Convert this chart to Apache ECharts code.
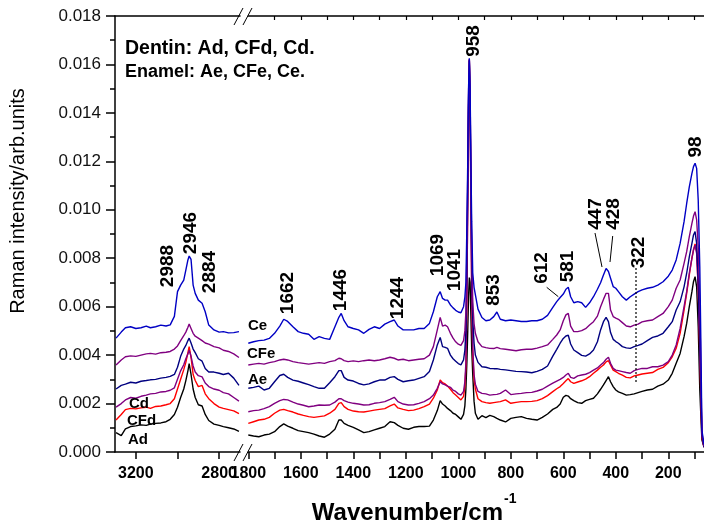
<!DOCTYPE html>
<html>
<head>
<meta charset="utf-8">
<script src="https://cdn.jsdelivr.net/npm/echarts@6/dist/echarts.min.js"></script>
<style>
  html, body { margin: 0; padding: 0; background: #ffffff; }
  #chart { width: 704px; height: 525px; }
</style>
</head>
<body>
<div id="chart"></div>
<script>
// Raman spectra of dentin (Ad, CFd, Cd) and enamel (Ae, CFe, Ce).
// Intensities are listed in units of 1e-3 arb. units.

// C-H stretching window (cm-1)
const wnHigh = [3295, 3270, 3250, 3225, 3200, 3175, 3150, 3130, 3105, 3080, 3055, 3035, 3015, 3000, 2985, 2970,
  2960, 2950, 2944, 2935, 2925, 2915, 2900, 2882, 2867, 2850, 2825, 2800, 2780, 2755, 2730, 2705];

const ceHigh  = [4.70, 4.95, 5.13, 5.17, 5.10, 5.13, 5.20, 5.13, 5.17, 5.24, 5.20, 5.25, 5.60, 6.62, 6.89, 7.10,
  7.51, 7.93, 8.09, 7.95, 6.89, 6.55, 6.27, 6.14, 5.79, 5.24, 5.04, 4.95, 4.97, 4.92, 4.93, 4.97];
const cfeHigh = [3.59, 3.80, 3.93, 3.97, 3.95, 4.00, 4.05, 4.07, 4.04, 4.10, 4.12, 4.15, 4.25, 4.38, 4.60, 4.80,
  4.95, 5.15, 5.28, 5.10, 4.90, 4.78, 4.70, 4.60, 4.50, 4.45, 4.35, 4.30, 4.20, 4.15, 4.05, 3.90];
const aeHigh  = [2.60, 2.75, 2.80, 2.88, 2.85, 2.92, 2.95, 2.98, 3.00, 3.05, 3.08, 3.12, 3.20, 3.50, 3.95, 4.25,
  4.40, 4.60, 4.70, 4.50, 4.25, 4.10, 3.85, 3.75, 3.45, 3.30, 3.30, 3.25, 3.20, 3.25, 3.05, 2.75];
const cdHigh  = [1.85, 2.00, 2.15, 2.25, 2.22, 2.30, 2.35, 2.40, 2.42, 2.48, 2.50, 2.55, 2.65, 3.00, 3.35, 3.60,
  3.85, 4.05, 4.20, 3.95, 3.55, 3.30, 3.15, 3.10, 2.85, 2.70, 2.60, 2.55, 2.45, 2.40, 2.25, 2.10];
const cfdHigh = [1.32, 1.55, 1.75, 1.80, 1.78, 1.82, 1.85, 1.80, 1.88, 1.90, 1.95, 2.00, 2.20, 2.60, 3.00, 3.40,
  3.70, 4.10, 4.35, 3.90, 3.20, 2.95, 2.70, 2.75, 2.40, 2.20, 2.00, 1.85, 1.80, 1.75, 1.70, 1.58];
const adHigh  = [0.80, 0.68, 0.95, 1.05, 1.08, 1.12, 1.10, 1.15, 1.18, 1.20, 1.25, 1.35, 1.55, 1.85, 2.25, 2.60,
  2.95, 3.35, 3.65, 3.20, 2.60, 2.25, 1.95, 1.90, 1.55, 1.30, 1.15, 1.10, 1.05, 1.00, 0.95, 0.85];

// fingerprint / lattice window (cm-1)
const wnLow = [
  1800, 1780, 1760, 1740, 1720, 1700, 1680, 1665, 1650, 1630,
  1610, 1590, 1570, 1550, 1530, 1510, 1490, 1470, 1455, 1446,
  1435, 1420, 1400, 1380, 1360, 1340, 1320, 1300, 1280, 1260,
  1244, 1230, 1210, 1190, 1170, 1150, 1130, 1110, 1095, 1080,
  1069, 1060, 1050, 1041, 1030, 1020, 1010, 1000, 990, 980,
  975, 971, 967, 964, 961, 958, 955, 952, 949, 945,
  940, 935, 925, 910, 895, 880, 865, 853, 840, 820,
  800, 780, 760, 740, 720, 700, 680, 660, 640, 625,
  612, 600, 590, 581, 572, 560, 545, 530, 515, 500,
  485, 470, 458, 447, 437, 428, 420, 410, 400, 390,
  375, 360, 345, 330, 315, 300, 280, 260, 240, 220,
  200, 185, 170, 155, 140, 130, 120, 110, 104, 98,
  92, 86, 80, 76, 72, 64];

const ceLow = [
  4.49, 4.55, 4.60, 4.62, 4.69, 4.90, 5.20, 5.48, 5.39, 5.17,
  4.97, 4.90, 4.86, 4.65, 4.76, 4.69, 4.65, 5.17, 5.56, 5.72,
  5.42, 5.17, 5.10, 5.04, 4.90, 5.06, 5.17, 5.10, 5.28, 5.38,
  5.45, 5.20, 5.04, 5.04, 5.04, 5.10, 5.10, 5.31, 5.79, 6.41,
  6.62, 6.34, 6.27, 6.27, 6.07, 5.95, 5.85, 5.78, 5.75, 6.00,
  6.40, 7.00, 9.50, 12.00, 15.00, 16.25, 15.00, 12.00, 9.50, 7.40,
  6.80, 6.50, 5.90, 5.55, 5.42, 5.45, 5.59, 5.78, 5.48, 5.42,
  5.45, 5.42, 5.39, 5.39, 5.42, 5.42, 5.48, 5.64, 5.97, 6.21,
  6.38, 6.52, 6.72, 6.80, 6.41, 6.16, 6.21, 6.16, 5.97, 6.16,
  6.41, 6.72, 6.99, 7.31, 7.58, 7.45, 7.17, 6.83, 6.76, 6.62,
  6.41, 6.27, 6.41, 6.52, 6.62, 6.69, 6.76, 6.80, 6.89, 7.03,
  7.26, 7.51, 7.93, 8.61, 9.51, 10.26, 10.95, 11.50, 11.78, 11.92,
  11.71, 10.40, 7.65, 4.60, 0.90, 0.30];

const cfeLow = [
  3.59, 3.63, 3.66, 3.63, 3.69, 3.73, 3.80, 3.83, 3.80, 3.73,
  3.69, 3.66, 3.63, 3.66, 3.69, 3.66, 3.73, 3.77, 3.87, 3.85,
  3.77, 3.73, 3.76, 3.73, 3.77, 3.80, 3.77, 3.80, 3.85, 3.91,
  3.87, 3.80, 3.83, 3.77, 3.80, 3.83, 3.85, 4.00, 4.35, 5.04,
  5.56, 5.20, 5.24, 5.17, 4.90, 4.70, 4.55, 4.45, 4.40, 4.60,
  5.00, 5.80, 8.50, 11.50, 14.80, 16.20, 14.80, 11.50, 8.50, 6.20,
  5.30, 4.90, 4.55, 4.35, 4.31, 4.28, 4.27, 4.32, 4.27, 4.24,
  4.21, 4.18, 4.22, 4.24, 4.24, 4.29, 4.35, 4.42, 4.65, 4.83,
  5.04, 5.42, 5.66, 5.72, 5.20, 4.97, 4.97, 5.01, 5.09, 5.24,
  5.38, 5.61, 6.00, 6.30, 6.55, 6.55, 5.86, 5.59, 5.53, 5.48,
  5.34, 5.20, 5.17, 5.24, 5.28, 5.37, 5.42, 5.45, 5.59, 5.72,
  6.00, 6.27, 6.76, 7.10, 7.79, 8.27, 8.89, 9.44, 9.74, 9.92,
  9.58, 8.48, 6.00, 3.50, 0.80, 0.25];

const aeLow = [
  2.63, 2.67, 2.72, 2.56, 2.63, 2.90, 3.16, 3.21, 3.08, 2.97,
  2.92, 2.85, 2.78, 2.70, 2.63, 2.63, 2.86, 3.11, 3.36, 3.36,
  3.08, 2.97, 2.93, 2.83, 2.77, 2.81, 2.90, 2.97, 2.97, 3.08,
  3.11, 3.00, 2.90, 2.94, 2.97, 3.04, 3.11, 3.32, 3.80, 4.42,
  4.73, 4.35, 4.32, 4.28, 4.00, 3.85, 3.75, 3.65, 3.60, 3.80,
  4.20, 5.00, 7.80, 11.00, 14.50, 16.15, 14.50, 11.00, 7.80, 5.50,
  4.50, 4.00, 3.70, 3.52, 3.50, 3.45, 3.44, 3.44, 3.41, 3.39,
  3.36, 3.33, 3.32, 3.30, 3.27, 3.33, 3.41, 3.55, 3.96, 4.24,
  4.49, 4.69, 4.79, 4.82, 4.46, 4.21, 4.10, 3.99, 3.96, 4.05,
  4.21, 4.55, 5.04, 5.38, 5.56, 5.38, 4.93, 4.65, 4.56, 4.49,
  4.35, 4.30, 4.28, 4.35, 4.40, 4.46, 4.60, 4.73, 4.79, 4.90,
  5.17, 5.38, 5.86, 6.20, 6.82, 7.38, 8.06, 8.61, 8.96, 9.10,
  8.61, 7.10, 4.62, 2.80, 0.70, 0.20];

const cdLow = [
  1.66, 1.71, 1.73, 1.79, 1.87, 2.01, 2.12, 2.17, 2.15, 2.06,
  1.98, 1.93, 1.87, 1.90, 1.94, 1.93, 1.94, 2.06, 2.20, 2.20,
  2.12, 2.06, 2.01, 1.98, 1.94, 1.95, 2.01, 2.04, 2.08, 2.17,
  2.26, 2.08, 1.98, 1.94, 1.95, 2.01, 2.08, 2.20, 2.35, 2.63,
  2.90, 2.81, 2.77, 2.72, 2.67, 2.55, 2.50, 2.40, 2.35, 2.50,
  2.90, 3.70, 6.80, 10.50, 14.20, 16.20, 14.20, 10.50, 6.80, 4.30,
  3.20, 2.80, 2.50, 2.42, 2.40, 2.35, 2.37, 2.38, 2.42, 2.56,
  2.37, 2.40, 2.42, 2.45, 2.46, 2.52, 2.59, 2.72, 2.84, 2.93,
  3.00, 3.08, 3.18, 3.25, 3.08, 3.04, 3.14, 3.18, 3.21, 3.28,
  3.38, 3.47, 3.59, 3.69, 3.83, 3.91, 3.66, 3.45, 3.38, 3.36,
  3.32, 3.28, 3.25, 3.36, 3.41, 3.45, 3.45, 3.52, 3.52, 3.59,
  3.73, 4.00, 4.42, 5.10, 6.00, 6.62, 7.38, 8.00, 8.34, 8.54,
  8.20, 6.82, 4.35, 2.50, 0.70, 0.20];

const cfdLow = [
  1.18, 1.25, 1.32, 1.35, 1.43, 1.60, 1.73, 1.76, 1.71, 1.65,
  1.57, 1.51, 1.46, 1.43, 1.46, 1.49, 1.60, 1.76, 2.01, 2.04,
  1.87, 1.76, 1.69, 1.66, 1.65, 1.69, 1.73, 1.76, 1.79, 1.90,
  1.98, 1.82, 1.76, 1.71, 1.73, 1.79, 1.87, 1.98, 2.22, 2.56,
  2.97, 2.86, 2.81, 2.72, 2.59, 2.45, 2.35, 2.25, 2.15, 2.30,
  2.70, 3.50, 6.60, 10.30, 14.00, 16.20, 14.00, 10.30, 6.60, 4.10,
  3.00, 2.60, 2.20, 2.08, 2.04, 2.01, 2.04, 2.06, 2.08, 2.15,
  2.01, 2.05, 2.08, 2.08, 2.09, 2.12, 2.20, 2.33, 2.49, 2.61,
  2.70, 2.83, 2.94, 3.03, 2.90, 2.83, 2.89, 2.94, 3.01, 3.11,
  3.25, 3.38, 3.50, 3.59, 3.72, 3.77, 3.59, 3.38, 3.32, 3.25,
  3.17, 3.08, 3.06, 3.14, 3.18, 3.22, 3.25, 3.28, 3.41, 3.49,
  3.69, 3.93, 4.28, 4.90, 5.86, 6.55, 7.31, 8.00, 8.34, 8.59,
  8.27, 6.69, 4.07, 2.30, 0.60, 0.20];

const adLow = [
  0.70, 0.66, 0.63, 0.70, 0.74, 0.84, 1.05, 1.16, 1.07, 0.98,
  0.88, 0.84, 0.80, 0.74, 0.66, 0.61, 0.74, 0.94, 1.32, 1.32,
  1.18, 1.10, 1.02, 0.91, 0.80, 0.84, 0.91, 0.98, 1.05, 1.25,
  1.21, 1.10, 0.98, 0.94, 1.02, 1.05, 1.05, 1.07, 1.32, 1.71,
  2.12, 1.98, 1.90, 1.80, 1.71, 1.60, 1.55, 1.45, 1.35, 1.55,
  1.90, 2.60, 3.80, 5.00, 6.40, 7.20, 7.00, 5.60, 4.30, 3.20,
  2.10, 1.60, 1.35, 1.50, 1.42, 1.51, 1.46, 1.39, 1.32, 1.24,
  1.39, 1.43, 1.46, 1.39, 1.35, 1.32, 1.43, 1.57, 1.76, 1.84,
  1.98, 2.26, 2.34, 2.31, 2.20, 2.12, 2.04, 2.01, 2.12, 2.17,
  2.22, 2.40, 2.59, 2.77, 2.95, 3.11, 2.90, 2.70, 2.56, 2.48,
  2.42, 2.35, 2.37, 2.40, 2.45, 2.50, 2.56, 2.59, 2.72, 2.80,
  2.97, 3.25, 3.66, 4.07, 4.76, 5.31, 6.00, 6.62, 7.03, 7.24,
  6.82, 5.17, 2.56, 1.50, 0.50, 0.20];

// axis ticks and labels
const highTicks  = [3200, 3000, 2800];
const highLabels = [3200, 2800];
const lowTicks   = [1800, 1700, 1600, 1500, 1400, 1300, 1200, 1100, 1000, 900, 800, 700, 600, 500, 400, 300, 200, 100];
const lowLabels  = [1800, 1600, 1400, 1200, 1000, 800, 600, 400, 200];
const topTicks   = [1700, 1600, 1500, 1400, 1300, 1200, 1100, 1000, 900, 800, 700, 600, 500, 400, 300, 200, 100];

// assigned peak positions (cm-1)
const peakNames = ['2988', '2946', '2884', '1662', '1446', '1244', '1069', '1041', '958', '853',
  '612', '581', '447', '428', '322', '98'];

const UNIT = 1e-3;
const FONT = '"Liberation Sans", Arial, Helvetica, sans-serif';

const spectra = [
  { name: 'Ad',  high: adHigh,  low: adLow  },
  { name: 'CFd', high: cfdHigh, low: cfdLow },
  { name: 'Cd',  high: cdHigh,  low: cdLow  },
  { name: 'Ae',  high: aeHigh,  low: aeLow  },
  { name: 'CFe', high: cfeHigh, low: cfeLow },
  { name: 'Ce',  high: ceHigh,  low: ceLow  }
];
const lineColors = { Ad: '#000000', CFd: '#ff0000', Cd: '#800080', Ae: '#000080', CFe: '#800080', Ce: '#0000c4' };

function toPairs(wn, vals) {
  return wn.map((w, i) => [w, vals[i] * UNIT]);
}

const series = [];
spectra.forEach(s => {
  const common = {
    type: 'line', showSymbol: false, symbol: 'none', smooth: false, animation: false,
    lineStyle: { color: lineColors[s.name], width: 1.4 }, itemStyle: { color: lineColors[s.name] },
    emphasis: { disabled: true }, silent: true
  };
  series.push(Object.assign({ name: s.name + '-high', xAxisIndex: 0, yAxisIndex: 0, data: toPairs(wnHigh, s.high) }, common));
  series.push(Object.assign({ name: s.name + '-low',  xAxisIndex: 1, yAxisIndex: 1, data: toPairs(wnLow, s.low) }, common));
});

const axisLine = { show: true, onZero: false, lineStyle: { color: '#000', width: 1.5 } };
const plainNumber = v => String(v);

// text helpers for the annotations
function vText(text, x, y, size) {
  return { type: 'text', x: x, y: y, rotation: Math.PI / 2, z: 100,
    style: { text: text, fontFamily: FONT, fontWeight: 'bold', fontSize: size, fill: '#000',
      textAlign: 'center', textVerticalAlign: 'middle', align: 'center', verticalAlign: 'middle' } };
}
function hText(text, x, y, size, weight, align) {
  return { type: 'text', x: x, y: y, z: 100,
    style: { text: text, fontFamily: FONT, fontWeight: weight, fontSize: size, fill: '#000',
      textAlign: align, textVerticalAlign: 'middle', align: align, verticalAlign: 'middle' } };
}
function seg(x1, y1, x2, y2, dash) {
  return { type: 'line', z: 100, shape: { x1: x1, y1: y1, x2: x2, y2: y2 },
    style: { stroke: '#000', lineWidth: dash ? 1.2 : 1, lineDash: dash || null } };
}

const peakLabelPos = [
  [167.5, 266], [190.8, 233], [210, 272], [287.5, 293], [340.8, 290], [397.5, 298],
  [437.5, 255], [455, 270], [474, 41], [494, 290], [541.7, 268], [568, 266.5],
  [595.8, 214], [614, 214], [639, 252.5], [696, 147]
];

const graphics = [];
peakNames.forEach((t, i) => graphics.push(vText(t, peakLabelPos[i][0], peakLabelPos[i][1], 19)));

graphics.push(hText('Dentin: Ad, CFd, Cd.', 125, 49, 19.5, 'bold', 'left'));
graphics.push(hText('Enamel: Ae, CFe, Ce.', 125, 72, 18, 'bold', 'left'));

graphics.push(hText('Ce',  248, 326, 15, 'bold', 'left'));
graphics.push(hText('CFe', 247, 354, 15, 'bold', 'left'));
graphics.push(hText('Ae',  248, 380, 15, 'bold', 'left'));
graphics.push(hText('Cd',  129, 404, 15, 'bold', 'left'));
graphics.push(hText('CFd', 127, 421, 15, 'bold', 'left'));
graphics.push(hText('Ad',  128, 440, 15, 'bold', 'left'));

// axis titles
graphics.push({ type: 'text', x: 18, y: 201, rotation: Math.PI / 2, z: 100,
  style: { text: 'Raman intensity/arb.units', fontFamily: FONT, fontSize: 20, fill: '#000',
    textAlign: 'center', textVerticalAlign: 'middle', align: 'center', verticalAlign: 'middle' } });
graphics.push(hText('Wavenumber/cm', 503, 513, 24, 'bold', 'right'));
graphics.push(hText('-1', 504, 499, 14, 'bold', 'left'));

// axis break marks
graphics.push(seg(234, 461, 243, 444), seg(243, 461, 252, 444));
graphics.push(seg(234, 25, 243, 8), seg(243, 25, 252, 8));

// leader lines and the 322 marker
graphics.push(seg(546.7, 287.3, 558.3, 296.7));
graphics.push(seg(595, 233, 602, 267));
graphics.push(seg(612.7, 236, 610, 262));
graphics.push(seg(636, 268, 636, 382, [2, 2]));

const option = {
  animation: false,
  backgroundColor: '#ffffff',
  textStyle: { fontFamily: FONT },
  grid: [
    { left: 115, top: 16, width: 125, height: 436, containLabel: false, outerBoundsMode: 'none' },
    { left: 248.3, top: 16, width: 472.5, height: 436, containLabel: false, outerBoundsMode: 'none' }
  ],
  xAxis: [
    { gridIndex: 0, type: 'value', min: 2700, max: 3300, inverse: true, position: 'bottom',
      axisLine: axisLine,
      axisTick: { show: true, inside: false, length: 7, customValues: highTicks, lineStyle: { color: '#000', width: 1.5 } },
      axisLabel: { show: true, customValues: highLabels, formatter: plainNumber, fontFamily: FONT, fontSize: 16, fontWeight: 'bold', color: '#000', margin: 14 },
      splitLine: { show: false } },
    { gridIndex: 1, type: 'value', min: 0, max: 1800, inverse: true, position: 'bottom',
      axisLine: axisLine,
      axisTick: { show: true, inside: false, length: 7, customValues: lowTicks, lineStyle: { color: '#000', width: 1.5 } },
      axisLabel: { show: true, customValues: lowLabels, formatter: plainNumber, fontFamily: FONT, fontSize: 16, fontWeight: 'bold', color: '#000', margin: 14 },
      splitLine: { show: false } },
    { gridIndex: 0, type: 'value', min: 2700, max: 3300, inverse: true, position: 'top',
      axisLine: axisLine, axisTick: { show: false }, axisLabel: { show: false }, splitLine: { show: false } },
    { gridIndex: 1, type: 'value', min: 0, max: 1800, inverse: true, position: 'top',
      axisLine: axisLine,
      axisTick: { show: true, inside: true, length: 4, customValues: topTicks, lineStyle: { color: '#000', width: 1.2 } },
      axisLabel: { show: false }, splitLine: { show: false } }
  ],
  yAxis: [
    { gridIndex: 0, type: 'value', min: 0, max: 0.018, interval: 0.002,
      axisLine: axisLine,
      axisTick: { show: true, inside: false, length: 9, lineStyle: { color: '#000', width: 1.5 } },
      minorTick: { show: true, splitNumber: 2, length: 5, lineStyle: { color: '#000', width: 1.5 } },
      axisLabel: { formatter: v => v.toFixed(3), fontFamily: FONT, fontSize: 17, color: '#111', margin: 14 },
      splitLine: { show: false }, minorSplitLine: { show: false } },
    { gridIndex: 1, type: 'value', min: 0, max: 0.018, show: false, splitLine: { show: false } }
  ],
  series: series,
  graphic: { elements: graphics }
};

const chart = echarts.init(document.getElementById('chart'), null, { renderer: 'canvas' });
chart.setOption(option);
</script>
</body>
</html>
